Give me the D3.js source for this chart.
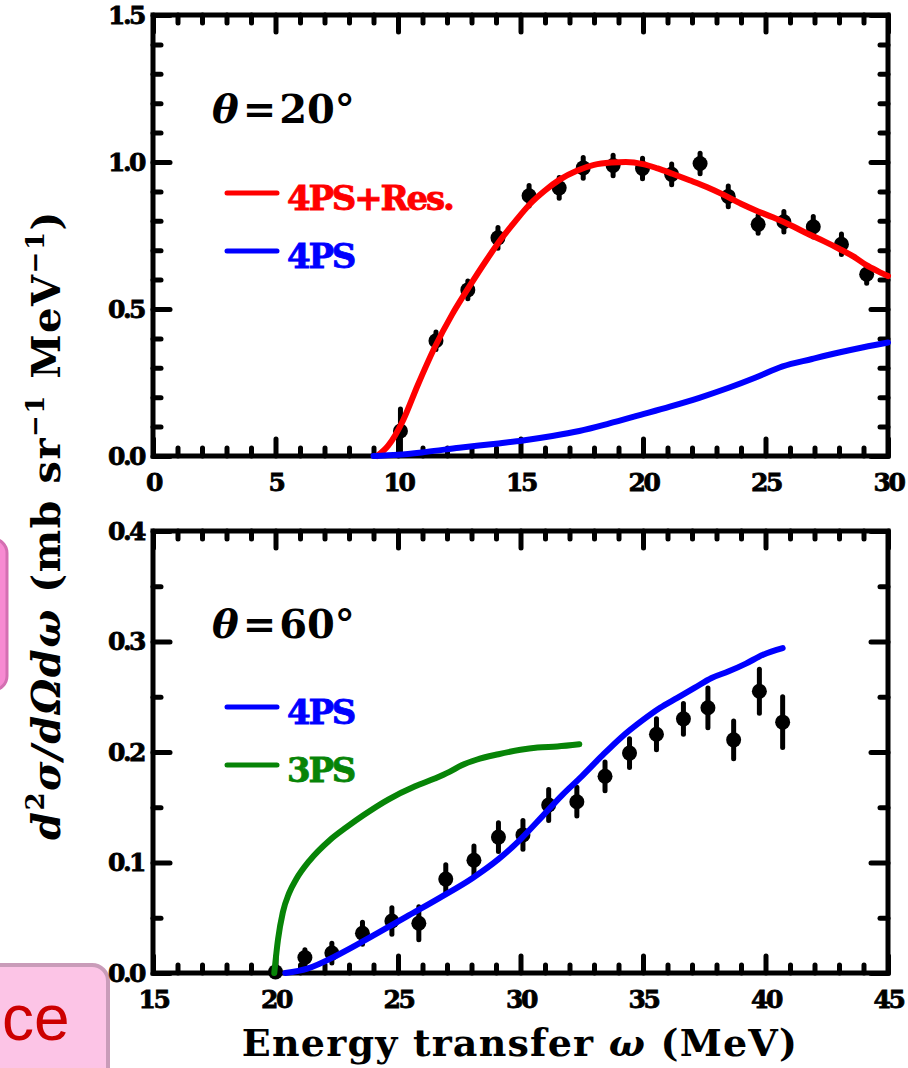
<!DOCTYPE html>
<html>
<head>
<meta charset="utf-8">
<script src="https://cdn.jsdelivr.net/npm/d3@7"></script>
<style>
  html, body { margin: 0; padding: 0; background: #fff; overflow: hidden; }
  svg { display: block; }
  .serif { font-family: "DejaVu Serif", serif; font-weight: bold; }
</style>
</head>
<body>
<svg id="chart" width="908" height="1068"></svg>
<script>
// ---- θ = 20° : measured points (ω in MeV, cross section, error)
const obsOmega20 = [10.1, 11.55, 12.85, 14.08, 15.35, 16.58, 17.56, 18.78, 19.98, 21.17, 22.33, 23.48, 24.7, 25.75, 26.95, 28.1, 29.13];
const obsXs20    = [0.085, 0.392, 0.565, 0.742, 0.885, 0.912, 0.98, 0.988, 0.978, 0.958, 0.995, 0.883, 0.788, 0.797, 0.78, 0.72, 0.618];
const obsErr20   = [0.075, 0.03, 0.03, 0.035, 0.035, 0.035, 0.035, 0.035, 0.035, 0.035, 0.035, 0.035, 0.03, 0.035, 0.035, 0.035, 0.03];

// ---- θ = 20° : 4PS + Res. calculation
const resOmega20 = [9.15, 9.6, 10.2, 10.8, 11.5, 12.2, 12.9, 13.6, 14.2, 14.8, 15.4, 16.0, 16.6, 17.3, 18.0, 18.7, 19.3, 20.0, 20.6, 21.2, 21.9, 22.6, 23.3, 24.0, 24.7, 25.3, 26.0, 26.7, 27.4, 28.0, 28.6, 29.1, 29.6, 30.0];
const resXs20    = [0.0, 0.035, 0.12, 0.24, 0.37, 0.48, 0.575, 0.665, 0.737, 0.80, 0.858, 0.903, 0.94, 0.97, 0.99, 0.998, 1.0, 0.993, 0.978, 0.96, 0.938, 0.915, 0.888, 0.858, 0.832, 0.812, 0.786, 0.757, 0.73, 0.705, 0.678, 0.65, 0.628, 0.612];

// ---- θ = 20° : 4PS calculation
const psOmega20 = [9.0, 10.0, 11.16, 12.5, 14.0, 15.1, 16.3, 17.4, 18.6, 19.9, 21.1, 22.3, 23.5, 24.6, 25.7, 26.9, 28.0, 29.0, 30.0];
const psXs20    = [0.0, 0.004, 0.014, 0.028, 0.042, 0.053, 0.068, 0.085, 0.11, 0.14, 0.168, 0.198, 0.232, 0.267, 0.305, 0.33, 0.352, 0.37, 0.386];

// ---- θ = 60° : measured points
const obsOmega60 = [20.0, 21.2, 22.3, 23.55, 24.75, 25.85, 26.95, 28.1, 29.1, 30.1, 31.15, 32.3, 33.45, 34.45, 35.55, 36.65, 37.65, 38.7, 39.75, 40.7];
const obsXs60    = [0.001, 0.014, 0.018, 0.036, 0.047, 0.045, 0.085, 0.102, 0.123, 0.125, 0.152, 0.155, 0.178, 0.199, 0.216, 0.230, 0.240, 0.211, 0.255, 0.227];
const obsErr60   = [0.0, 0.007, 0.009, 0.010, 0.012, 0.015, 0.013, 0.013, 0.013, 0.013, 0.014, 0.013, 0.013, 0.013, 0.014, 0.014, 0.018, 0.017, 0.020, 0.023];

// ---- θ = 60° : 4PS calculation
const psOmega60 = [20.4, 21.3, 22.6, 24.0, 25.35, 26.7, 28.05, 29.1, 30.0, 30.9, 31.7, 32.5, 33.3, 34.1, 35.0, 35.7, 36.4, 37.1, 37.8, 38.5, 39.2, 39.9, 40.7];
const psXs60    = [0.0, 0.004, 0.017, 0.034, 0.051, 0.068, 0.086, 0.103, 0.121, 0.142, 0.161, 0.178, 0.196, 0.213, 0.229, 0.24, 0.249, 0.258, 0.267, 0.273, 0.28, 0.288, 0.294];

// ---- θ = 60° : 3PS calculation
const tpsOmega60 = [19.95, 20.1, 20.3, 20.55, 20.85, 21.4, 22.2, 22.9, 23.6, 24.6, 25.7, 26.5, 27.1, 27.6, 28.2, 29.1, 30.0, 30.7, 31.5, 32.4];
const tpsXs60    = [0.0, 0.03, 0.055, 0.072, 0.085, 0.102, 0.12, 0.132, 0.143, 0.157, 0.169, 0.176, 0.182, 0.188, 0.193, 0.198, 0.202, 0.204, 0.205, 0.207];

// ---- axis ticks
const xMajor20 = [0, 5, 10, 15, 20, 25, 30];
const yMajor20 = [0, 0.5, 1.0, 1.5];
const xMajor60 = [15, 20, 25, 30, 35, 40, 45];
const yMajor60 = [0, 0.1, 0.2, 0.3, 0.4];

const RED = "#ff0000", BLUE = "#0000ff", GREEN = "#078407";

const svg = d3.select("#chart");

// decorative slide boxes behind the figure
svg.append("rect").attr("x", -30).attr("y", 539).attr("width", 37).attr("height", 151)
  .attr("rx", 14).attr("fill", "#f78ad2").attr("stroke", "#d46fb2").attr("stroke-width", 3);
svg.append("rect").attr("x", -30).attr("y", 965).attr("width", 138).attr("height", 140)
  .attr("rx", 16).attr("fill", "#fcc4e6").attr("stroke", "#c99cb9").attr("stroke-width", 4);
svg.append("text").attr("x", 2).attr("y", 1040)
  .attr("font-family", "Liberation Sans, Arial, sans-serif").attr("font-size", 64)
  .attr("fill", "#cc0000").text("ce");

const L = 153, R = 888;

function panel(cfg) {
  const x = d3.scaleLinear().domain(cfg.xDomain).range([L, R]);
  const y = d3.scaleLinear().domain(cfg.yDomain).range([cfg.bottom, cfg.top]);
  const g = svg.append("g");

  const minorX = d3.range(cfg.xDomain[0], cfg.xDomain[1] + 1e-9, 1).filter(v => !cfg.xMajor.includes(v));
  const minorY = d3.range(cfg.yDomain[0], cfg.yDomain[1] + 1e-9, cfg.yMinorStep)
    .map(v => +v.toFixed(3)).filter(v => !cfg.yMajor.some(m => Math.abs(m - v) < 1e-6));

  const addAxis = (axis, tr) => {
    const a = g.append("g").attr("transform", tr).call(axis);
    a.select(".domain").remove();
    a.selectAll(".tick line").attr("stroke", "#000").attr("stroke-width", 5).attr("stroke-linecap", "round");
    return a;
  };
  const MAJ = 17, MIN = 8;
  // bottom
  const bx = addAxis(d3.axisBottom(x).tickValues(cfg.xMajor).tickSizeInner(-MAJ).tickSizeOuter(0).tickPadding(17).tickFormat(d3.format("d")), `translate(0,${cfg.bottom})`);
  addAxis(d3.axisBottom(x).tickValues(minorX).tickSizeInner(-MIN).tickSizeOuter(0).tickFormat(""), `translate(0,${cfg.bottom})`);
  // top
  addAxis(d3.axisTop(x).tickValues(cfg.xMajor).tickSizeInner(-MAJ).tickSizeOuter(0).tickFormat(""), `translate(0,${cfg.top})`);
  addAxis(d3.axisTop(x).tickValues(minorX).tickSizeInner(-MIN).tickSizeOuter(0).tickFormat(""), `translate(0,${cfg.top})`);
  // left
  const ly = addAxis(d3.axisLeft(y).tickValues(cfg.yMajor).tickSizeInner(-MAJ).tickSizeOuter(0).tickPadding(9).tickFormat(d3.format(".1f")), `translate(${L},0)`);
  addAxis(d3.axisLeft(y).tickValues(minorY).tickSizeInner(-MIN).tickSizeOuter(0).tickFormat(""), `translate(${L},0)`);
  // right
  addAxis(d3.axisRight(y).tickValues(cfg.yMajor).tickSizeInner(-MAJ).tickSizeOuter(0).tickFormat(""), `translate(${R},0)`);
  addAxis(d3.axisRight(y).tickValues(minorY).tickSizeInner(-MIN).tickSizeOuter(0).tickFormat(""), `translate(${R},0)`);

  [bx, ly].forEach(a => a.selectAll(".tick text")
    .attr("class", "serif").attr("font-size", 25).attr("letter-spacing", -2.5).attr("fill", "#000")
    .attr("stroke", "#000").attr("stroke-width", 0.8));

  // frame
  g.append("rect").attr("x", L).attr("y", cfg.top).attr("width", R - L).attr("height", cfg.bottom - cfg.top)
    .attr("fill", "none").attr("stroke", "#000").attr("stroke-width", 5);

  // measured points with vertical error bars
  const pts = cfg.obsX.map((v, i) => ({ w: v, s: cfg.obsY[i], e: cfg.obsE[i] }));
  const pg = g.append("g");
  pg.selectAll("line").data(pts).join("line")
    .attr("x1", d => x(d.w)).attr("x2", d => x(d.w))
    .attr("y1", d => y(d.s - d.e)).attr("y2", d => y(d.s + d.e))
    .attr("stroke", "#000").attr("stroke-width", 5).attr("stroke-linecap", "round");
  pg.selectAll("circle").data(pts).join("circle")
    .attr("cx", d => x(d.w)).attr("cy", d => y(d.s)).attr("r", 7.5).attr("fill", "#000");

  // calculations
  const line = d3.line().x(d => x(d[0])).y(d => y(d[1])).curve(d3.curveMonotoneX);
  cfg.curves.forEach(c => {
    g.append("path").datum(c.xs.map((v, i) => [v, c.ys[i]]))
      .attr("d", line).attr("fill", "none").attr("stroke", c.color)
      .attr("stroke-width", 6).attr("stroke-linecap", "round").attr("stroke-linejoin", "round");
  });

  // angle label
  const t = g.append("text").attr("class", "serif").attr("x", 212).attr("y", cfg.labelY)
    .attr("font-size", 40).attr("fill", "#000");
  t.append("tspan").attr("font-style", "italic").text("θ");
  t.append("tspan").attr("dx", 4).text("=");
  t.append("tspan").attr("dx", 3).text(cfg.angle + "°");

  // legend
  cfg.curves.forEach((c, i) => {
    const ly0 = cfg.legendY + i * 58;
    g.append("line").attr("x1", 227).attr("x2", 277).attr("y1", ly0).attr("y2", ly0)
      .attr("stroke", c.color).attr("stroke-width", 5).attr("stroke-linecap", "round");
    g.append("text").attr("class", "serif").attr("x", 287).attr("y", ly0 + 17)
      .attr("font-size", 34).attr("letter-spacing", -2.2).attr("fill", c.color)
      .attr("stroke", c.color).attr("stroke-width", 0.8).text(c.name);
  });
}

panel({
  xDomain: [0, 30], yDomain: [0, 1.5], top: 15, bottom: 456,
  xMajor: xMajor20, yMajor: yMajor20, yMinorStep: 0.1,
  obsX: obsOmega20, obsY: obsXs20, obsE: obsErr20,
  curves: [
    { name: "4PS+Res.", xs: resOmega20, ys: resXs20, color: RED },
    { name: "4PS", xs: psOmega20, ys: psXs20, color: BLUE }
  ],
  angle: "20", labelY: 123, legendY: 193
});

panel({
  xDomain: [15, 45], yDomain: [0, 0.4], top: 531, bottom: 973,
  xMajor: xMajor60, yMajor: yMajor60, yMinorStep: 0.05,
  obsX: obsOmega60, obsY: obsXs60, obsE: obsErr60,
  curves: [
    { name: "4PS", xs: psOmega60, ys: psXs60, color: BLUE },
    { name: "3PS", xs: tpsOmega60, ys: tpsXs60, color: GREEN }
  ],
  angle: "60", labelY: 638, legendY: 707
});

// axis titles
const yt = svg.append("text").attr("class", "serif").attr("font-size", 40).attr("letter-spacing", 1.5)
  .attr("text-anchor", "middle").attr("transform", "translate(60,525) rotate(-90)").attr("fill", "#000");
yt.append("tspan").attr("font-style", "italic").text("d");
yt.append("tspan").attr("font-size", 26).attr("dy", -16).text("2");
yt.append("tspan").attr("font-style", "italic").attr("dy", 16).text("σ/dΩdω");
yt.append("tspan").text(" (mb sr");
yt.append("tspan").attr("font-size", 26).attr("dy", -16).text("−1");
yt.append("tspan").attr("dy", 16).text(" MeV");
yt.append("tspan").attr("font-size", 26).attr("dy", -16).text("−1");
yt.append("tspan").attr("dy", 16).text(")");

svg.append("text").attr("class", "serif").attr("font-size", 38).attr("letter-spacing", 1.2)
  .attr("text-anchor", "middle").attr("x", 520).attr("y", 1056).attr("fill", "#000")
  .call(t => {
    t.append("tspan").text("Energy transfer ");
    t.append("tspan").attr("font-style", "italic").text("ω");
    t.append("tspan").text(" (MeV)");
  });
</script>
</body>
</html>
